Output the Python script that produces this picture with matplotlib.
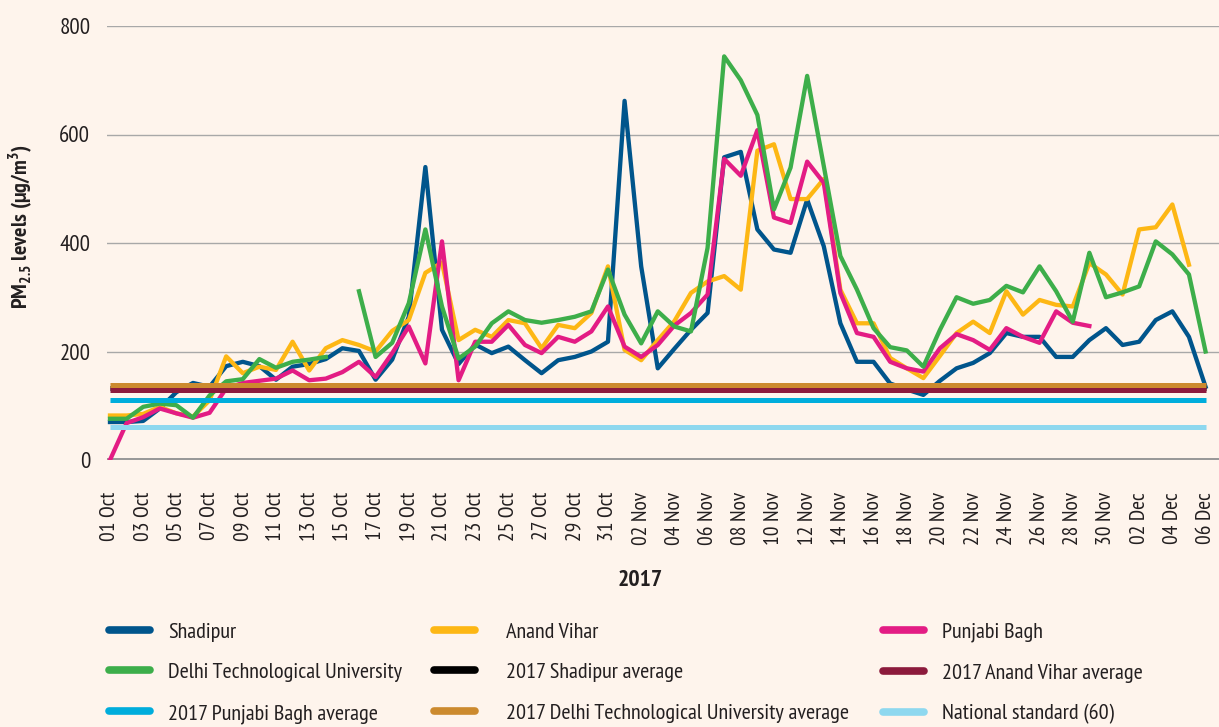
import numpy as np
import pandas as pd
import matplotlib
matplotlib.use("Agg")
import matplotlib.pyplot as plt
from matplotlib import font_manager
from matplotlib.lines import Line2D

nan = np.nan

# daily PM2.5, 01 Oct - 06 Dec 2017
dates = pd.date_range("2017-10-01", "2017-12-06", freq="D")

shadipur = [70, 70, 72, 95, 125, 142, 135, 173, 181, 173, 148, 172, 177, 186, 206, 201,
            148, 185, 264, 540, 240, 177, 213, 197, 209, 184, 160, 184, 190, 200, 218, 662,
            357, 169, 205, 240, 271, 558, 568, 425, 388, 382, 480, 394, 252, 181, 181, 141,
            130, 120, 146, 169, 179, 197, 234, 227, 227, 190, 190, 221, 243, 212, 218, 258,
            274, 227, 135]
anand_vihar = [82, 82, 85, 98, 86, 80, 110, 191, 160, 172, 166, 218, 165, 206, 221, 212,
               200, 238, 258, 345, 364, 221, 240, 227, 258, 252, 206, 249, 243, 271, 357, 203,
               184, 221, 256, 308, 329, 339, 314, 570, 582, 481, 481, 518, 314, 252, 252, 188,
               169, 151, 192, 234, 255, 234, 311, 268, 295, 286, 283, 363, 342, 305, 425, 429,
               471, 360, nan]
punjabi_bagh = [0, 68, 79, 95, 86, 78, 87, 132, 142, 146, 150, 165, 147, 150, 162, 181,
                153, 197, 246, 178, 403, 147, 218, 218, 249, 212, 197, 227, 218, 237, 283, 209,
                190, 212, 248, 271, 305, 555, 524, 608, 447, 437, 550, 511, 308, 234, 227, 181,
                169, 163, 206, 232, 221, 203, 243, 227, 216, 274, 253, 247, nan, nan, nan, nan,
                nan, nan, nan]
dtu = [76, 76, 98, 104, 101, 78, 119, 145, 149, 186, 170, 181, 185, 190, nan, 311,
       190, 216, 289, 425, 283, 187, 209, 252, 274, 258, 253, 258, 264, 274, 351, 268,
       215, 274, 246, 237, 391, 744, 700, 636, 462, 539, 708, 542, 376, 314, 243, 208,
       202, 172, 240, 300, 288, 295, 321, 309, 357, 311, 255, 382, 300, 309, 320, 403,
       379, 342, 200]

# 2017 averages and national standard
avg_shadipur = 133
avg_anand_vihar = 129
avg_punjabi_bagh = 111
avg_dtu = 139
national_standard = 60

# font: condensed if we have one
avail = {f.name for f in font_manager.fontManager.ttflist}
cond_font = "DejaVu Sans"
for fam in ["PT Sans Narrow", "Open Sans Condensed", "Roboto Condensed", "Liberation Sans Narrow"]:
    if fam in avail:
        cond_font = fam
        break
plt.rcParams["font.family"] = [cond_font, "DejaVu Sans"]
plt.rcParams["mathtext.fontset"] = "custom"
plt.rcParams["mathtext.rm"] = cond_font
plt.rcParams["mathtext.bf"] = cond_font + ":bold"

bg = "#FEF4EC"
fig = plt.figure(figsize=(12.19, 7.27), dpi=100, facecolor=bg)
ax = fig.add_axes([107 / 1219, 267 / 727, 1112 / 1219, 434 / 727])
ax.set_facecolor(bg)

x = np.arange(len(dates))
lw = 3.1
ax.plot(x, shadipur, color="#00558C", lw=lw, label="Shadipur", zorder=3)
ax.plot(x, anand_vihar, color="#FDB714", lw=lw, label="Anand Vihar", zorder=3)
ax.plot(x, punjabi_bagh, color="#E31C84", lw=lw, label="Punjabi Bagh", zorder=3)
ax.plot(x, dtu, color="#3DAE4A", lw=lw, label="Delhi Technological University", zorder=3)

alw = 3.6
ax.hlines(avg_shadipur, x[0], x[-1], color="black", lw=alw, zorder=4)
ax.hlines(avg_anand_vihar, x[0], x[-1], color="#8C1A3C", lw=alw, zorder=4)
ax.hlines(avg_punjabi_bagh, x[0], x[-1], color="#00ADDC", lw=alw, zorder=4)
ax.hlines(avg_dtu, x[0], x[-1], color="#CC8A2E", lw=alw, zorder=4)
ax.hlines(national_standard, x[0], x[-1], color="#8ED8EF", lw=alw, zorder=4)

ax.axhline(0, color="#999999", lw=3.6, zorder=2)

ax.set_xlim(-0.18, 66.81)
ax.set_ylim(0, 800)
ax.set_yticks([0, 200, 400, 600, 800])
ax.yaxis.grid(True, color="#A8A8A8", lw=1.0)
ax.set_axisbelow(True)
for s in ax.spines.values():
    s.set_visible(False)

ax.set_xticks(x[::2])
ax.set_xticklabels([d.strftime("%d %b") for d in dates[::2]], rotation=90,
                   fontsize=15.5, color="#231F20")
ax.tick_params(axis="x", length=0, pad=23)
ax.tick_params(axis="y", length=0, pad=12, labelsize=16.5, labelcolor="#231F20")

ax.set_ylabel(r"PM$_{\mathbf{2.5}}$ levels (µg/m$^{\mathbf{3}}$)", fontsize=16,
              fontweight="bold", color="#231F20")
ax.yaxis.set_label_coords(-72 / 1112, 0.537)
fig.text(640 / 1219, 1 - 581 / 727, "2017", ha="center", va="center",
         fontsize=17, fontweight="bold", color="#231F20")

# legend, three columns laid row by row
entries = [
    ("Shadipur", "#00558C"), ("Anand Vihar", "#FDB714"), ("Punjabi Bagh", "#E31C84"),
    ("Delhi Technological University", "#3DAE4A"), ("2017 Shadipur average", "black"),
    ("2017 Anand Vihar average", "#8C1A3C"),
    ("2017 Punjabi Bagh average", "#00ADDC"), ("2017 Delhi Technological University average", "#CC8A2E"),
    ("National standard (60)", "#8ED8EF"),
]
col_x = [109, 434, 883]
col_pad = [0.82, 1.4, 0.8]
for c in range(3):
    items = entries[c::3]
    handles = [Line2D([], [], color=col, lw=5.5, solid_capstyle="round") for _, col in items]
    leg = fig.legend(handles, [lab for lab, _ in items], loc="upper left",
                     bbox_to_anchor=(col_x[c] / 1219, 1 - 622 / 727), frameon=False,
                     fontsize=16, handlelength=1.85, handletextpad=col_pad[c],
                     labelspacing=0.95, borderpad=0, borderaxespad=0)
    for t in leg.get_texts():
        t.set_color("#231F20")

fig.savefig("out.png", dpi=100, facecolor=bg)
